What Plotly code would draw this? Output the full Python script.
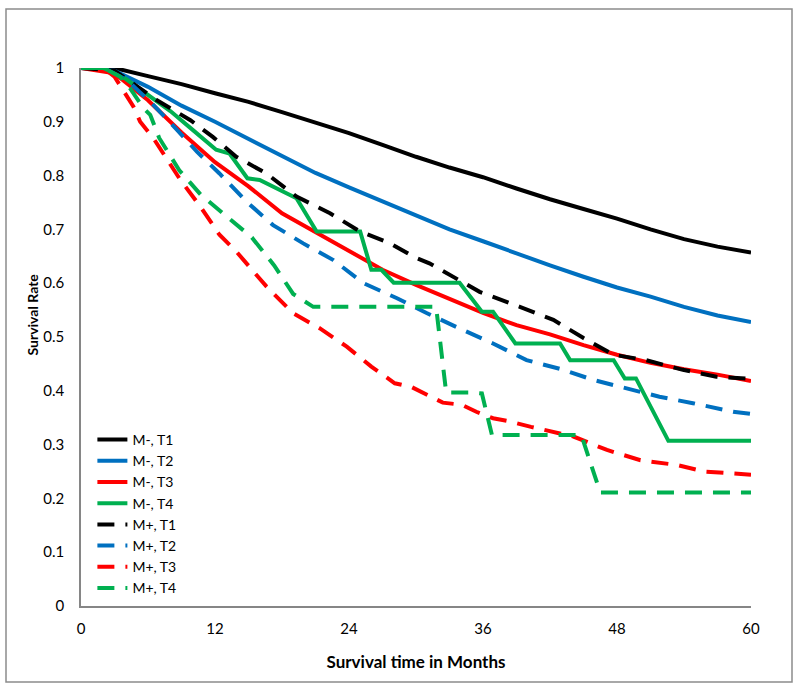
import plotly.graph_objects as go

# ---- data (months, survival rate) ----
m_t1_x = [0, 3, 6, 9, 12, 15, 18, 21, 24, 27, 30, 33, 36, 39, 42, 45, 48, 51, 54, 57, 60]
m_t1_y = [1, 1, 0.985, 0.97, 0.953, 0.937, 0.918, 0.899, 0.879, 0.857, 0.835, 0.815, 0.797, 0.776, 0.756, 0.738, 0.72, 0.70, 0.682, 0.668, 0.657]

m_t2_x = [0, 3, 6, 9, 12, 15, 18, 21, 24, 27, 30, 33, 36, 39, 42, 45, 48, 51, 54, 57, 60]
m_t2_y = [1, 0.995, 0.965, 0.93, 0.9, 0.868, 0.835, 0.805, 0.778, 0.752, 0.725, 0.7, 0.678, 0.655, 0.633, 0.612, 0.592, 0.575, 0.556, 0.54, 0.528]

m_t3_x = [0, 3, 6, 9, 12, 15, 18, 21, 24, 27, 30, 33, 36, 39, 42, 45, 48, 51, 54, 57, 60]
m_t3_y = [1, 0.99, 0.94, 0.88, 0.825, 0.78, 0.73, 0.695, 0.66, 0.625, 0.597, 0.57, 0.545, 0.522, 0.505, 0.485, 0.467, 0.452, 0.44, 0.43, 0.418]

m_t4_x = [0, 2, 4, 6, 8, 10, 12.1, 13.3, 14.9, 16, 18.7, 19.3, 21.1, 25, 26, 26.9, 28, 33.9, 35.9, 36.9, 38.9, 42.9, 43.8, 47.7, 48.7, 49.7, 52.6, 60]
m_t4_y = [1, 1, 0.98, 0.95, 0.92, 0.885, 0.848, 0.841, 0.795, 0.792, 0.764, 0.758, 0.696, 0.696, 0.625, 0.625, 0.601, 0.601, 0.547, 0.547, 0.488, 0.488, 0.457, 0.457, 0.423, 0.423, 0.307, 0.307]

p_t1_x = [0, 3, 6.8, 9.8, 11.8, 13.9, 16.6, 19.3, 22.3, 25, 27.7, 29.8, 31.2, 33.8, 35.7, 39.3, 42.3, 45, 47.7, 50.6, 53.9, 56.9, 60]
p_t1_y = [1, 0.995, 0.94, 0.903, 0.872, 0.835, 0.804, 0.761, 0.73, 0.696, 0.674, 0.649, 0.637, 0.606, 0.584, 0.556, 0.532, 0.498, 0.467, 0.457, 0.439, 0.426, 0.422]

p_t2_x = [0, 2, 4.1, 6.5, 8.6, 10.4, 12.4, 14.8, 17.2, 19.9, 22.6, 25.3, 28.3, 30.9, 34.2, 36.9, 39.9, 43.2, 45.9, 48.9, 51.8, 54.8, 58.4, 60]
p_t2_y = [1, 1, 0.978, 0.931, 0.885, 0.844, 0.804, 0.752, 0.708, 0.674, 0.643, 0.6, 0.572, 0.545, 0.513, 0.488, 0.457, 0.439, 0.42, 0.405, 0.389, 0.377, 0.361, 0.357]

p_t3_x = [0, 2, 3, 3.8, 4.7, 5.3, 6.5, 8.9, 10.7, 12.4, 13.9, 16.6, 19, 21.4, 23.8, 26, 28.1, 29.6, 31.1, 32.4, 34.1, 35.4, 36.9, 38.4, 40.3, 44.1, 47.1, 50.1, 53.4, 55.8, 60]
p_t3_y = [1, 1, 0.984, 0.959, 0.928, 0.9, 0.869, 0.792, 0.742, 0.69, 0.659, 0.594, 0.544, 0.516, 0.482, 0.445, 0.414, 0.407, 0.392, 0.378, 0.374, 0.361, 0.349, 0.343, 0.333, 0.315, 0.29, 0.271, 0.262, 0.25, 0.244]

p_t4_x = [0, 2, 3.5, 4.4, 5.6, 6.2, 7.0, 8.8, 10.7, 12.9, 15.3, 17.3, 19.0, 20.8, 31.8, 32.7, 34.8, 35.9, 36.8, 44.8, 46.5, 60]
p_t4_y = [1, 1, 0.984, 0.962, 0.925, 0.913, 0.87, 0.81, 0.765, 0.727, 0.685, 0.633, 0.58, 0.556, 0.556, 0.397, 0.397, 0.395, 0.318, 0.318, 0.211, 0.211]

series_names = ["M-, T1", "M-, T2", "M-, T3", "M-, T4", "M+, T1", "M+, T2", "M+, T3", "M+, T4"]
series_x = [m_t1_x, m_t2_x, m_t3_x, m_t4_x, p_t1_x, p_t2_x, p_t3_x, p_t4_x]
series_y = [m_t1_y, m_t2_y, m_t3_y, m_t4_y, p_t1_y, p_t2_y, p_t3_y, p_t4_y]
colors = ["#000000", "#0070C0", "#FF0000", "#00B050"] * 2
dashes = ["solid"] * 4 + ["17px,11px"] * 4

x_ticks = [0, 12, 24, 36, 48, 60]
y_ticks = [0, 0.1, 0.2, 0.3, 0.4, 0.5, 0.6, 0.7, 0.8, 0.9, 1]
y_tick_text = ["0", "0.1", "0.2", "0.3", "0.4", "0.5", "0.6", "0.7", "0.8", "0.9", "1"]

FONT = "Lato, 'Open Sans', sans-serif"

fig = go.Figure()
for name, xs, ys, c, d in zip(series_names, series_x, series_y, colors, dashes):
    fig.add_trace(go.Scatter(x=xs, y=ys, mode="lines", name=name,
                             line=dict(color=c, width=4, dash=d)))

fig.update_layout(
    width=800, height=691,
    paper_bgcolor="white", plot_bgcolor="white",
    margin=dict(l=81, r=49, t=68, b=85),
    font=dict(family=FONT, size=15, color="#000000"),
    showlegend=True,
    legend=dict(x=0.017, y=(606 - 424) / 538, xanchor="left", yanchor="top",
                bgcolor="rgba(0,0,0,0)", font=dict(size=14, family=FONT),
                tracegroupgap=0),
    xaxis=dict(range=[0, 60], tickvals=x_ticks, showgrid=False, zeroline=False,
               showline=True, linecolor="#868686", linewidth=1.5, ticks="",
               ticklabelstandoff=8, tickfont=dict(size=15),
               title=dict(text="<b>Survival time in Months</b>", standoff=20,
                          font=dict(size=17, family=FONT))),
    yaxis=dict(range=[0, 1], tickvals=y_ticks, ticktext=y_tick_text, showgrid=False,
               zeroline=False, showline=True, linecolor="#868686", linewidth=1.5,
               ticks="", ticklabelstandoff=12, tickfont=dict(size=15)),
    annotations=[dict(text="<b>Survival Rate</b>", xref="paper", yref="paper",
                      x=(31.5 - 81) / 670, y=(606 - 315) / 538,
                      xanchor="center", yanchor="middle", textangle=-90,
                      showarrow=False, font=dict(size=14, family=FONT))],
    shapes=[dict(type="rect", xref="paper", yref="paper",
                 x0=(6 - 81) / 670, x1=(792 - 81) / 670,
                 y0=(606 - 682) / 538, y1=(606 - 9) / 538,
                 line=dict(color="#8c8c8c", width=1.5), fillcolor="rgba(0,0,0,0)",
                 layer="below")],
)

fig.write_html("out.html", config={"displayModeBar": False},
               post_script="document.body.style.margin='0';")
